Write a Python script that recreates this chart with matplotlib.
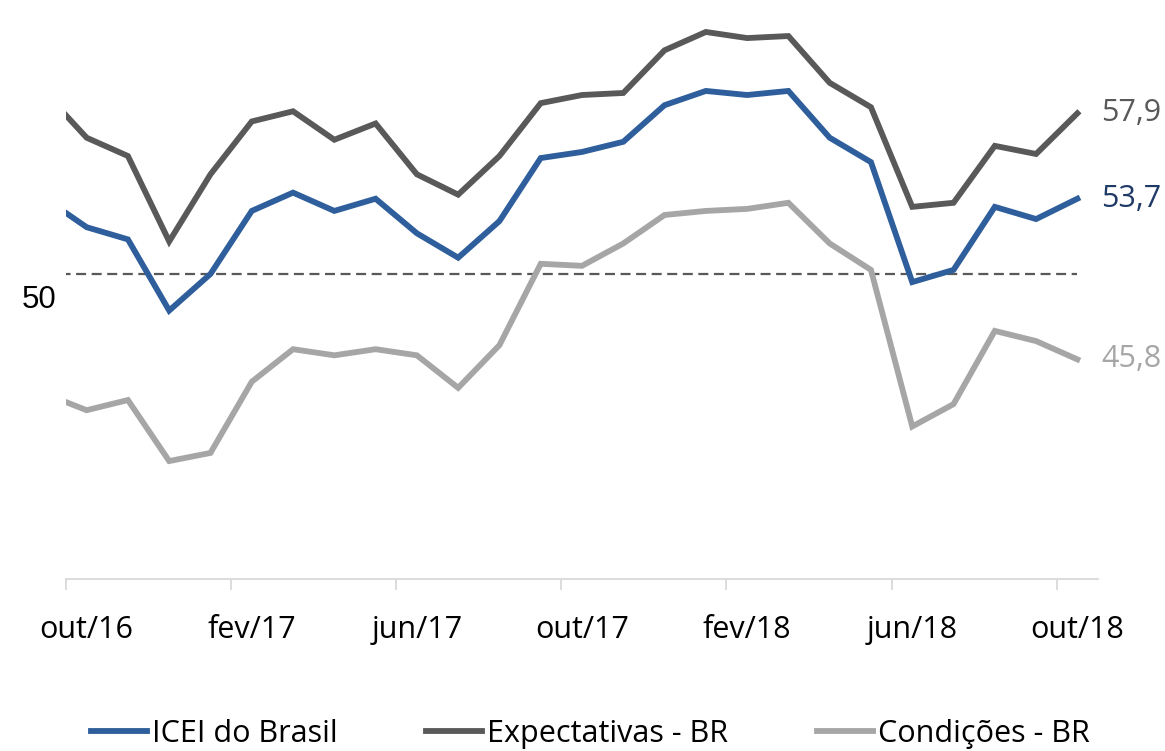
import matplotlib
matplotlib.use("Agg")
import matplotlib.pyplot as plt
import numpy as np

# ---- data -------------------------------------------------------------
months = ["set/16", "out/16", "nov/16", "dez/16", "jan/17", "fev/17", "mar/17",
          "abr/17", "mai/17", "jun/17", "jul/17", "ago/17", "set/17", "out/17",
          "nov/17", "dez/17", "jan/18", "fev/18", "mar/18", "abr/18", "mai/18",
          "jun/18", "jul/18", "ago/18", "set/18", "out/18"]
icei = [53.7, 52.3, 51.7, 48.2, 50.0, 53.1, 54.0, 53.1, 53.7, 52.0, 50.8, 52.6,
        55.7, 56.0, 56.5, 58.3, 59.0, 58.8, 59.0, 56.7, 55.5, 49.6, 50.2, 53.3,
        52.7, 53.7]
expectativas = [58.9, 56.7, 55.8, 51.6, 54.9, 57.5, 58.0, 56.6, 57.4, 54.9, 53.9,
                55.8, 58.4, 58.8, 58.9, 61.0, 61.9, 61.6, 61.7, 59.4, 58.2, 53.3,
                53.5, 56.3, 55.9, 57.9]
condicoes = [44.1, 43.3, 43.8, 40.8, 41.2, 44.7, 46.3, 46.0, 46.3, 46.0, 44.4, 46.5,
             50.5, 50.4, 51.5, 52.9, 53.1, 53.2, 53.5, 51.5, 50.2, 42.5, 43.6, 47.2,
             46.7, 45.8]
reference_level = 50
tick_labels = ["out/16", "fev/17", "jun/17", "out/17", "fev/18", "jun/18", "out/18"]
series_names = ["ICEI do Brasil", "Expectativas - BR", "Condições - BR"]
end_labels = ["53,7", "57,9", "45,8"]

# ---- style --------------------------------------------------------------
plt.rcParams['font.family'] = ['Open Sans', 'DejaVu Sans']
c_icei = "#2E5E9B"
c_exp = "#595959"
c_cond = "#A6A6A6"
c_lbl = ["#1F3A66", "#595959", "#A6A6A6"]
fs = 22

fig = plt.figure(figsize=(11.65, 7.51), dpi=100)
ax = fig.add_axes([66/1165, 172/751, (1098-66)/1165, (741.4-172)/751])

x = np.arange(len(months)) - 1  # out/16 at 0

ax.plot(x, [reference_level]*len(x), color="#595959", lw=1.6,
        dashes=(4.5, 2.5), zorder=1)
ln_cond, = ax.plot(x, condicoes, color=c_cond, lw=4.2, solid_joinstyle='miter', zorder=2)
ln_exp, = ax.plot(x, expectativas, color=c_exp, lw=4.2, solid_joinstyle='miter', zorder=3)
ln_icei, = ax.plot(x, icei, color=c_icei, lw=4.2, solid_joinstyle='miter', zorder=4)

ax.set_xlim(-0.5, len(months) - 1.5)
ax.set_ylim(35, 63)

# axes styling
for s in ["top", "right", "left"]:
    ax.spines[s].set_visible(False)
ax.spines["bottom"].set_color("#D9D9D9")
ax.spines["bottom"].set_linewidth(1.3)
ax.set_yticks([])

label_idx = [months.index(m) - 1 for m in tick_labels]
ax.set_xticks(label_idx)
ax.set_xticklabels(tick_labels, fontsize=fs, color="#000000")
ax.tick_params(axis='x', which='major', length=0, pad=26)
ax.set_xticks(np.arange(-0.5, len(months) - 1.5, 4), minor=True)
ax.tick_params(axis='x', which='minor', length=8, width=1.3, color="#D9D9D9", direction='out')

# end labels
last = len(months) - 2
for vals, txt, col in zip([icei, expectativas, condicoes], end_labels, c_lbl):
    ax.annotate(txt, xy=(last, vals[-1]), xytext=(17, 0), textcoords='offset points',
                ha='left', va='center', fontsize=fs, color=col, annotation_clip=False)

# "50" label
fig.text(39/1165, 1 - 300/751, "50", fontsize=22.5, family="Liberation Sans",
         ha='center', va='center', color="black")

leg = fig.legend([ln_icei, ln_exp, ln_cond], series_names, loc='center',
                 bbox_to_anchor=(590/1165, 1 - 734/751), ncol=3, frameon=False,
                 fontsize=fs, handlelength=1.85, handletextpad=0.15,
                 columnspacing=2.9, borderpad=0.0)

fig.savefig("out.png", dpi=100)
